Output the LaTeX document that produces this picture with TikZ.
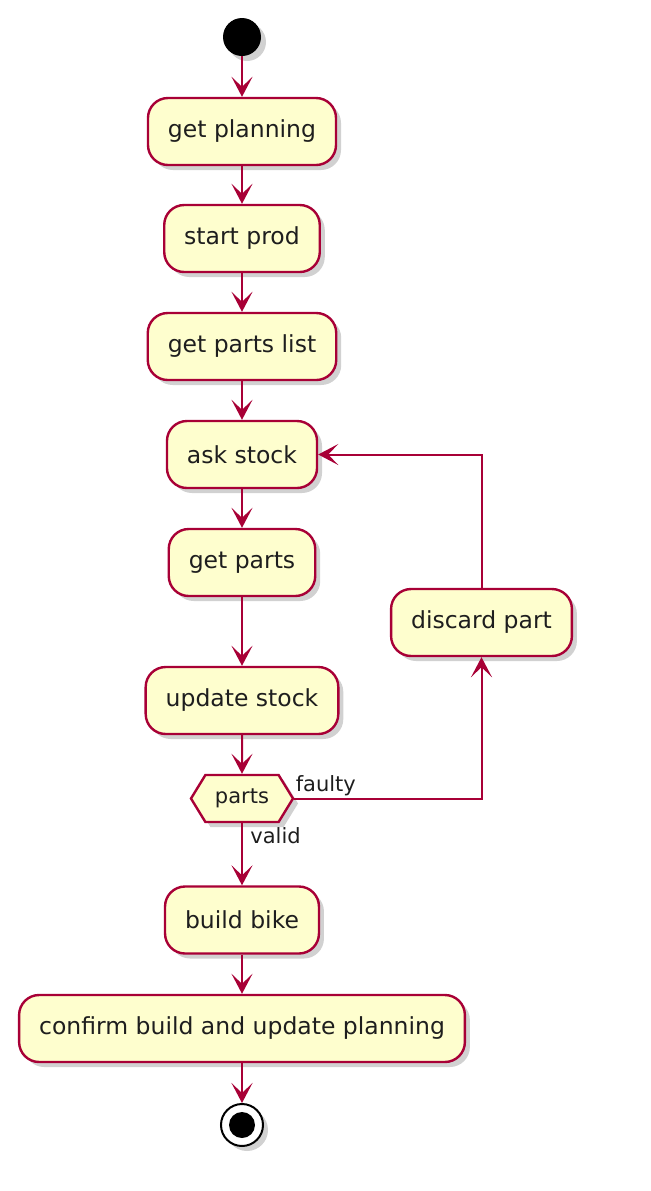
\documentclass[tikz,border=0pt]{standalone}
\usepackage{fontspec}
\setmainfont{DejaVu Sans}
\usepackage{xcolor}
\usetikzlibrary{arrows.meta,shadows,shapes.symbols}
\definecolor{umlred}{RGB}{168,0,54}
\definecolor{umlfill}{RGB}{254,254,206}
\definecolor{umltext}{RGB}{30,30,30}

\tikzset{
    umlshadow/.style={drop shadow={shadow xshift=2.5pt, shadow yshift=-2.5pt, opacity=0.3, fill=black!60}},
    activity/.style={rectangle, rounded corners=10pt, draw=umlred, line width=1.2pt,
        fill=umlfill, minimum height=33.5pt, inner xsep=10pt, text=umltext,
        font=\fontsize{11.75}{14}\selectfont, umlshadow},
    decision/.style={signal, signal to=west and east, signal pointer angle=117,
        draw=umlred, line width=1.2pt, fill=umlfill, minimum width=51pt,
        minimum height=23.5pt, inner xsep=2pt, text=umltext,
        font=\fontsize{10.5}{12}\selectfont, umlshadow},
    flow/.style={draw=umlred, line width=1pt, -{Stealth[length=10pt, width=10.5pt, inset=5pt]}},
    guard/.style={inner sep=0pt, text=umltext, font=\fontsize{10.5}{12}\selectfont}
}

\begin{document}
\begin{tikzpicture}[x=0.5pt, y=-0.5pt]
\useasboundingbox (0,0) rectangle (651,1191);

\node[circle, fill=black, minimum size=19pt, inner sep=0pt, umlshadow] (start) at (242,37) {};
\node[activity] (plan) at (242,131.5) {get planning};
\node[activity] (prod) at (242,238.5) {start prod};
\node[activity] (list) at (242,346.5) {get parts list};
\node[activity] (ask) at (242,454.5) {ask stock};
\node[activity] (getparts) at (242,562.5) {get parts};
\node[activity] (update) at (242,700.5) {update stock};
\node[decision] (check) at (242,798.5) {parts};
\node[activity] (discard) at (481.5,622.5) {discard part};
\node[activity] (build) at (242,920) {build bike};
\node[activity] (confirm) at (242,1028.5) {confirm build and update planning};
\node[circle, draw=black, line width=1pt, fill=white, minimum size=21pt, inner sep=0pt, umlshadow,
    path picture={\fill[black] (path picture bounding box.center) circle (6.5pt);}] (stop) at (242,1125) {};

\draw[flow] (start) -- (plan);
\draw[flow] (plan) -- (prod);
\draw[flow] (prod) -- (list);
\draw[flow] (list) -- (ask);
\draw[flow] (ask) -- (getparts);
\draw[flow] (getparts) -- (update);
\draw[flow] (update) -- (check);
\draw[flow] (check.east) -| (discard.south);
\draw[flow] (discard.north) |- (ask.east);
\draw[flow] (check.south) -- (build);
\draw[flow] (build) -- (confirm);
\draw[flow] (confirm) -- (stop);

\node[guard, anchor=base west] (faulty) at ([xshift=0.5pt, yshift=3.5pt]check.east) {faulty};
\node[guard, anchor=base west] (valid) at ([xshift=4pt, yshift=-10pt]check.south) {valid};
\end{tikzpicture}
\end{document}
